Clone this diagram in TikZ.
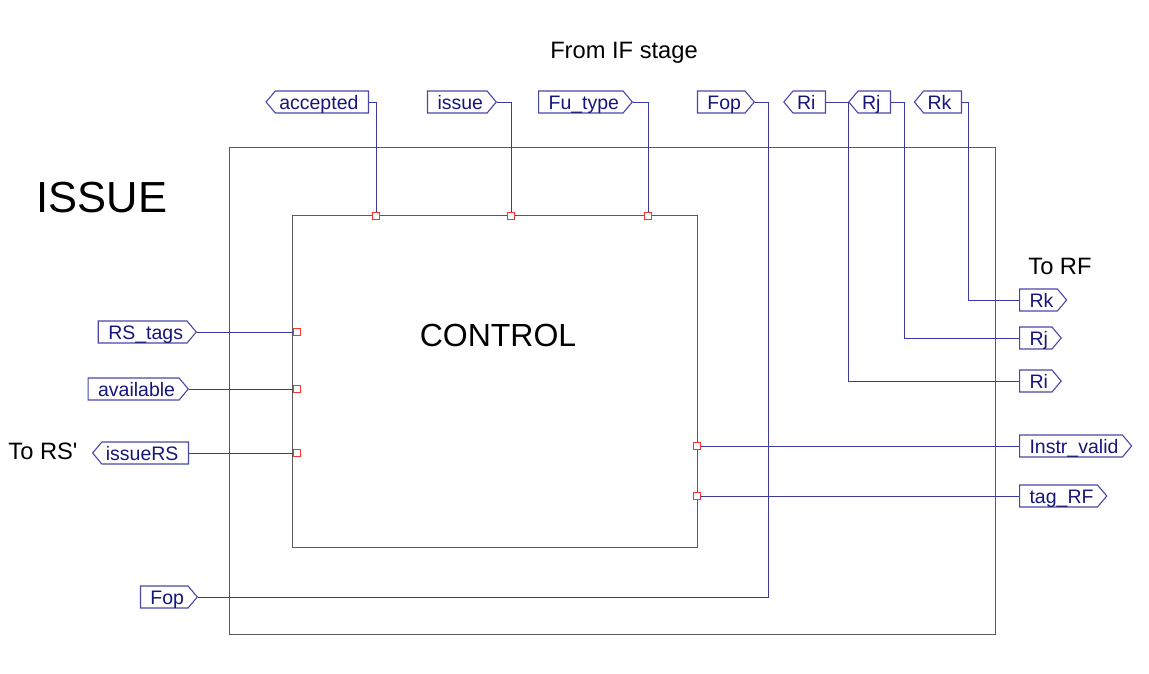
\documentclass[tikz,border=0pt]{standalone}
\usepackage{fontspec}
\setmainfont{Liberation Sans}[Ligatures=TeXOff]
\usetikzlibrary{shapes.symbols}
\definecolor{flagc}{HTML}{4848A8}
\definecolor{txtc}{HTML}{16167A}
\definecolor{wirec}{HTML}{3A3AA0}
\definecolor{boxc}{HTML}{5A5A5A}
\definecolor{portc}{HTML}{FF3030}
\tikzset{
  flag/.style={shape=signal, signal to=east, signal pointer angle=100, draw=flagc, line width=1.1pt,
    text=txtc, font=\fontsize{19.5}{21}\selectfont, minimum height=22pt, inner xsep=4pt, inner ysep=0pt,
    text height=14pt, text depth=0pt, execute at begin node={\hspace{6pt}}},
  lflag/.style={shape=signal, signal to=west, signal pointer angle=100, draw=flagc, line width=1.1pt,
    text=txtc, font=\fontsize{19.5}{21}\selectfont, minimum height=22pt, inner xsep=4pt, inner ysep=0pt,
    text height=14pt, text depth=0pt, execute at end node={\hspace{6pt}}},
  wire/.style={draw=wirec, line width=0.9pt},
  frame/.style={draw=boxc, line width=1.2pt},
  port/.style={draw=portc, fill=white, line width=0.8pt, minimum size=6.5pt, inner sep=0pt, shape=rectangle},
  lbl/.style={text=black, font=\fontsize{23.7}{26}\selectfont, anchor=base}
}
\begin{document}
\begin{tikzpicture}[x=1pt,y=-1pt]
\useasboundingbox (0,0) rectangle (1149,673);
% boxes
\node[frame, shape=rectangle, minimum width=766pt, minimum height=487pt, anchor=north west, inner sep=0pt] (outer) at (229,147) {};
\node[frame, shape=rectangle, minimum width=405pt, minimum height=332pt, anchor=north west, inner sep=0pt] (ctrl) at (292,215) {};
% texts
\node[text=black, font=\fontsize{43.5}{46}\selectfont, anchor=base] (issuet) at (102,212) {ISSUE};
\node[text=black, font=\fontsize{32}{34}\selectfont, anchor=base] (ctrlt) at (498,346) {CONTROL};
\node[lbl] (fromif) at (624,58) {From IF stage};
\node[lbl] (torf) at (1060,274) {To RF};
\node[lbl] (tors) at (43,459) {To RS'};
% top flags
\node[lflag, anchor=east] (accepted) at (369,102) {accepted};
\node[flag, anchor=east] (issue) at (497,102) {issue};
\node[flag, anchor=east] (futype) at (633,102) {Fu\_type};
\node[flag, anchor=east] (fop1) at (755,102) {Fop};
\node[lflag, anchor=east] (ri1) at (826,102) {Ri};
\node[lflag, anchor=east] (rj1) at (891,102) {Rj};
\node[lflag, anchor=east] (rk1) at (962,102) {Rk};
% right flags
\node[flag, anchor=west] (rk2) at (1019,300) {Rk};
\node[flag, anchor=west] (rj2) at (1019,338) {Rj};
\node[flag, anchor=west] (ri2) at (1019,381) {Ri};
\node[flag, anchor=west] (instr) at (1019,446) {Instr\_valid};
\node[flag, anchor=west] (tagrf) at (1019,496) {tag\_RF};
% left flags
\node[flag, anchor=east] (rstags) at (197,332) {RS\_tags};
\node[flag, anchor=east] (avail) at (189,389) {available};
\node[lflag, anchor=east] (issuers) at (189,453) {issueRS};
\node[flag, anchor=east] (fop2) at (198,597) {Fop};
% corner coordinates
\coordinate (fopc) at (768,597);
\coordinate (ric) at (848,381);
\coordinate (rjc) at (904,338);
\coordinate (rkc) at (968,300);
% wires
\draw[wire] (accepted.east) -| (376,216);
\draw[wire] (issue.east) -| (511,216);
\draw[wire] (futype.east) -| (648,216);
\draw[wire] (fop1.east) -| (fopc) -- (fop2.east);
\draw[wire] (ri1.east) -| (ric) -- (ri2.west);
\draw[wire] (rj1.east) -| (rjc) -- (rj2.west);
\draw[wire] (rk1.east) -| (rkc) -- (rk2.west);
\draw[wire] (rstags.east) -- (297,332);
\draw[wire] (avail.east) -- (297,389);
\draw[wire] (issuers.east) -- (297,453);
\draw[wire] (697,446) -- (instr.west);
\draw[wire] (697,496) -- (tagrf.west);
% ports
\node[port] (pa) at (376,216) {};
\node[port] (pi) at (511,216) {};
\node[port] (pf) at (648,216) {};
\node[port] (pl1) at (297,332) {};
\node[port] (pl2) at (297,389) {};
\node[port] (pl3) at (297,453) {};
\node[port] (pr1) at (697,446) {};
\node[port] (pr2) at (697,496) {};
\end{tikzpicture}
\end{document}
